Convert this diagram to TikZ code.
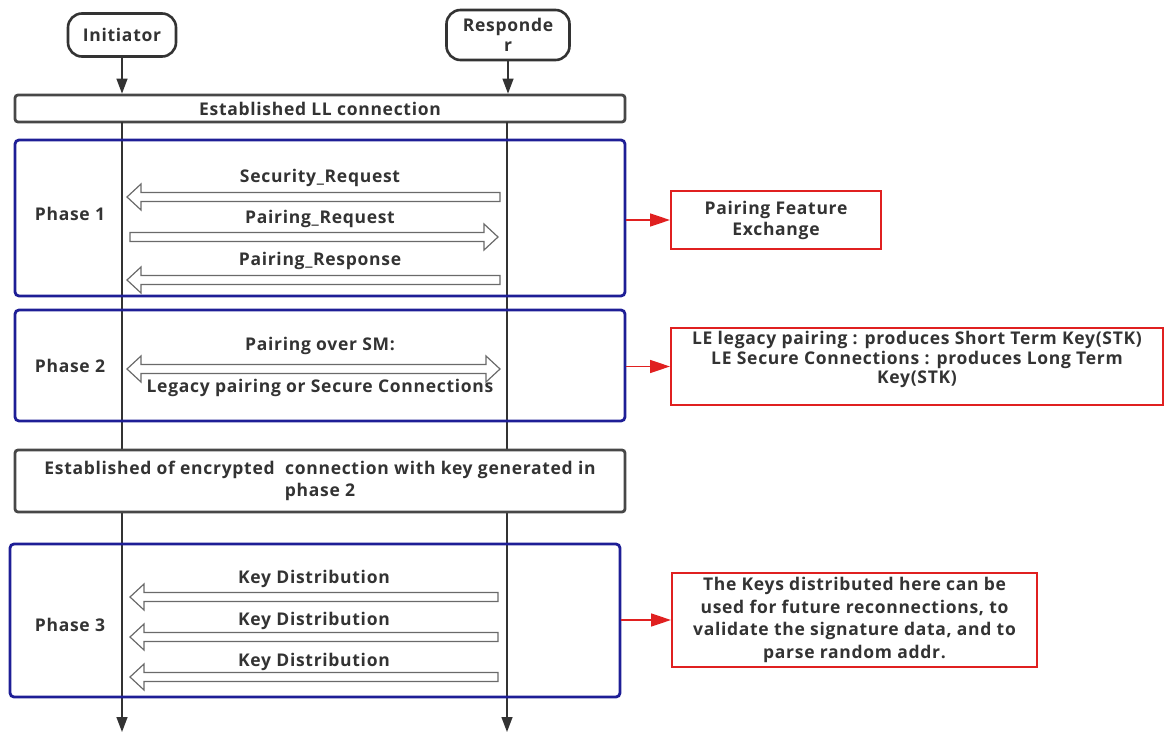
\documentclass[tikz,border=0pt]{standalone}
\usepackage{fontspec}
\setmainfont{Open Sans}[LetterSpace=4]
\usetikzlibrary{arrows.meta,calc}
\definecolor{txt}{HTML}{333333}
\definecolor{navy}{HTML}{1E1E96}
\definecolor{redb}{HTML}{E02020}
\definecolor{hol}{HTML}{6A6A6A}
\begin{document}
\begin{tikzpicture}[x=1pt,y=-1pt,
  every node/.style={text=txt,font=\bfseries\fontsize{17.5}{22.5}\selectfont},
  actor/.style={draw=txt,line width=2.6pt,rounded corners=14pt,fill=white,align=center,inner sep=0pt},
  graybox/.style={draw=txt!90,line width=2.8pt,rounded corners=3pt,fill=white,align=center,inner sep=0pt},
  phasebox/.style={draw=navy,line width=2.8pt,rounded corners=4pt,inner sep=0pt},
  redbox/.style={draw=redb,line width=2pt,fill=white,align=center,inner sep=0pt},
  life/.style={draw=txt,line width=1.4pt,-{Triangle[length=15pt,width=11pt]}},
  redarrow/.style={draw=redb,line width=1.6pt,-{Triangle[length=20pt,width=13pt]}},
  lbl/.style={inner sep=0pt},
  hollow/.style={draw=hol,line width=1.2pt,fill=white,line join=miter,
    to path={let \p1=(\tikztostart),\p2=(\tikztotarget),\n1={ifthenelse(\x2>\x1,1,-1)} in
      (\x1,\y1+4.5pt) -- (\x2-\n1*14pt,\y1+4.5pt) -- (\x2-\n1*14pt,\y1+13pt) -- (\x2,\y1)
      -- (\x2-\n1*14pt,\y1-13pt) -- (\x2-\n1*14pt,\y1-4.5pt) -- (\x1,\y1-4.5pt) -- cycle}},
  hollowboth/.style={draw=hol,line width=1.2pt,fill=white,line join=miter,
    to path={let \p1=(\tikztostart),\p2=(\tikztotarget) in
      (\x1,\y1) -- (\x1+14pt,\y1+13pt) -- (\x1+14pt,\y1+4.5pt) -- (\x2-14pt,\y1+4.5pt) -- (\x2-14pt,\y1+13pt) -- (\x2,\y1)
      -- (\x2-14pt,\y1-13pt) -- (\x2-14pt,\y1-4.5pt) -- (\x1+14pt,\y1-4.5pt) -- (\x1+14pt,\y1-13pt) -- cycle}}
]
\useasboundingbox (0,0) rectangle (1165,735);
% actors
\node[actor,minimum width=108pt,minimum height=43pt] (init) at (122,35) {Initiator};
\node[actor,minimum width=123pt,minimum height=50pt,font=\bfseries\fontsize{17.5}{20}\selectfont] (resp) at (508,35) {Responde\\r};
% boxes
\node[graybox,minimum width=610pt,minimum height=27pt] (ll) at (320,108.5) {Established LL connection};
\coordinate (itop) at (122,122);
\coordinate (rtop) at (507,122);
\coordinate (iend) at (122,732);
\coordinate (rend) at (507,732);
\draw[life] (init.south) -- (init.south |- ll.north);
\draw[life] (resp.south) -- (resp.south |- ll.north);
\draw[life] (itop) -- (iend);
\draw[life] (rtop) -- (rend);
\node[phasebox,minimum width=610pt,minimum height=156pt] (p1) at (320,218) {};
\node[phasebox,minimum width=610pt,minimum height=111pt] (p2) at (320,365.5) {};
\node[graybox,minimum width=610pt,minimum height=62pt] (enc) at (320,481) {Established of encrypted\ \ connection with key generated in\\phase 2};
\node[phasebox,minimum width=610pt,minimum height=153pt] (p3) at (315,620.5) {};
% phase labels
\node[lbl] (ph1) at (70,214) {Phase 1};
\node[lbl] (ph2) at (70,366) {Phase 2};
\node[lbl] (ph3) at (70,625) {Phase 3};
% messages
\coordinate (a1s) at (500,197); \coordinate (a1e) at (127,197);
\coordinate (a2s) at (130,237); \coordinate (a2e) at (498,237);
\coordinate (a3s) at (500,280); \coordinate (a3e) at (127,280);
\coordinate (a4s) at (127,369); \coordinate (a4e) at (500,369);
\coordinate (k1s) at (498,597); \coordinate (k1e) at (130,597);
\coordinate (k2s) at (498,637); \coordinate (k2e) at (130,637);
\coordinate (k3s) at (498,677); \coordinate (k3e) at (130,677);
\draw[hollow] (a1s) to (a1e);
\draw[hollow] (a2s) to (a2e);
\draw[hollow] (a3s) to (a3e);
\draw[hollowboth] (a4s) to (a4e);
\draw[hollow] (k1s) to (k1e);
\draw[hollow] (k2s) to (k2e);
\draw[hollow] (k3s) to (k3e);
\node[lbl] (m1) at (320,178) {Security\_Request};
\node[lbl] (m2) at (320,219) {Pairing\_Request};
\node[lbl] (m3) at (320,261) {Pairing\_Response};
\node[lbl] (m4) at (320,346) {Pairing over SM:};
\node[lbl] (m5) at (320,388) {Legacy pairing or Secure Connections};
\node[lbl] (k1) at (314,579) {Key Distribution};
\node[lbl] (k2) at (314,621) {Key Distribution};
\node[lbl] (k3) at (314,662) {Key Distribution};
% red notes
\node[redbox,minimum width=210pt,minimum height=58pt,font=\bfseries\fontsize{17.5}{21}\selectfont] (pfe) at (776,220) {Pairing Feature\\Exchange};
\node[redbox,minimum width=492pt,minimum height=77pt,text depth=18pt,font=\bfseries\fontsize{17.5}{19.5}\selectfont] (le) at (917,366.5) {LE legacy pairing : produces Short Term Key(STK)\\LE Secure Connections : produces Long Term\\Key(STK)};
\node[redbox,minimum width=365pt,minimum height=94pt] (keys) at (854.5,620) {The Keys distributed here can be\\used for future reconnections, to\\validate the signature data, and to\\parse random addr.};
\draw[redarrow] (p1.east |- pfe.west) -- (pfe.west);
\draw[redarrow] (p2.east |- le.west) -- (le.west);
\draw[redarrow] (p3.east |- keys.west) -- (keys.west);
\end{tikzpicture}
\end{document}
